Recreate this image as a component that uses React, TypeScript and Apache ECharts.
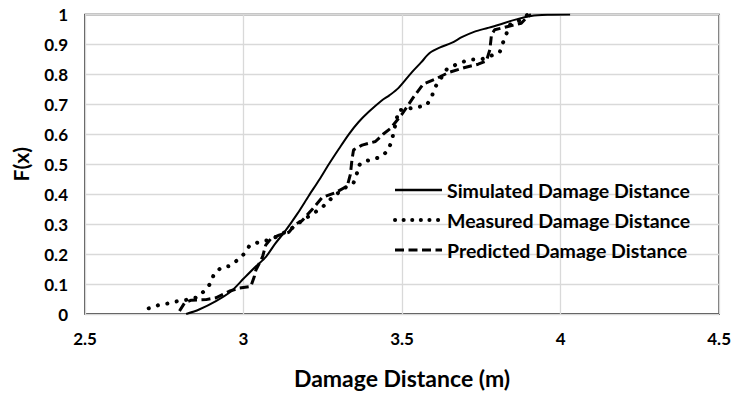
import React, { useEffect, useRef } from "react";
import * as echarts from "echarts";

const xTicks = [2.5, 3, 3.5, 4, 4.5];
const yTicks = [0, 0.1, 0.2, 0.3, 0.4, 0.5, 0.6, 0.7, 0.8, 0.9, 1];

const simulatedX = [2.819, 2.86, 2.913, 2.96, 3.002, 3.04, 3.07, 3.1, 3.133, 3.17, 3.206, 3.24, 3.269, 3.3, 3.332, 3.363, 3.395, 3.436, 3.46, 3.489, 3.53, 3.56, 3.588, 3.62, 3.656, 3.69, 3.729, 3.77, 3.803, 3.855, 3.907, 3.96, 4.03];
const simulatedY = [0, 0.015, 0.043, 0.075, 0.12, 0.16, 0.19, 0.235, 0.279, 0.335, 0.395, 0.45, 0.5, 0.55, 0.6, 0.641, 0.675, 0.713, 0.73, 0.755, 0.806, 0.84, 0.872, 0.89, 0.905, 0.925, 0.943, 0.955, 0.965, 0.982, 0.995, 0.999, 1.0];

const measuredX = [2.701, 2.73, 2.761, 2.793, 2.824, 2.856, 2.877, 2.895, 2.906, 2.929, 2.955, 2.981, 3.003, 3.02, 3.049, 3.075, 3.102, 3.122, 3.153, 3.185, 3.217, 3.248, 3.285, 3.321, 3.347, 3.358, 3.36, 3.379, 3.405, 3.436, 3.457, 3.468, 3.489, 3.549, 3.577, 3.593, 3.604, 3.641, 3.682, 3.719, 3.75, 3.78, 3.808, 3.818, 3.829, 3.839, 3.87, 3.897];
const measuredY = [0.019, 0.029, 0.035, 0.043, 0.048, 0.056, 0.078, 0.101, 0.131, 0.155, 0.16, 0.18, 0.202, 0.23, 0.24, 0.246, 0.257, 0.268, 0.287, 0.312, 0.334, 0.356, 0.394, 0.422, 0.438, 0.471, 0.493, 0.51, 0.515, 0.526, 0.548, 0.581, 0.68, 0.691, 0.696, 0.724, 0.757, 0.817, 0.839, 0.85, 0.85, 0.862, 0.874, 0.905, 0.935, 0.965, 0.98, 1.0];

const predictedX = [2.798, 2.814, 2.835, 2.882, 2.913, 2.955, 2.987, 3.023, 3.034, 3.039, 3.06, 3.07, 3.086, 3.112, 3.143, 3.164, 3.185, 3.217, 3.248, 3.29, 3.327, 3.337, 3.342, 3.347, 3.374, 3.416, 3.44, 3.463, 3.499, 3.536, 3.567, 3.604, 3.646, 3.698, 3.74, 3.766, 3.777, 3.782, 3.792, 3.834, 3.876, 3.891, 3.907];
const predictedY = [0.01, 0.037, 0.046, 0.048, 0.054, 0.076, 0.087, 0.092, 0.125, 0.147, 0.191, 0.23, 0.251, 0.263, 0.273, 0.3, 0.312, 0.35, 0.389, 0.405, 0.427, 0.466, 0.515, 0.548, 0.564, 0.576, 0.6, 0.619, 0.666, 0.724, 0.768, 0.784, 0.806, 0.823, 0.834, 0.845, 0.883, 0.932, 0.949, 0.96, 0.971, 0.988, 1.0];

const seriesNames = ["Simulated Damage Distance", "Measured Damage Distance", "Predicted Damage Distance"];

const zip = (xs: number[], ys: number[]) => xs.map((x, i) => [x, ys[i]]);

const FONT = "Lato";

const solidStyle = { color: "#000", width: 2 };
const dottedStyle = { color: "#000", width: 4, type: [0.1, 9.5], cap: "round" };
const dashedStyle = { color: "#000", width: 3, type: [9, 4.5] };

export default function App() {
  const ref = useRef<HTMLDivElement>(null);
  useEffect(() => {
    if (!ref.current) return;
    const chart = echarts.init(ref.current, null, { renderer: "svg" });
    chart.setOption({
      animation: false,
      backgroundColor: "#fff",
      textStyle: { fontFamily: FONT },
      grid: {
        left: 85,
        right: 12,
        top: 14.5,
        bottom: 76,
        show: true,
        borderColor: "#000",
        borderWidth: 1.3,
      },
      legend: {
        orient: "vertical",
        left: 393,
        top: 180,
        itemWidth: 47,
        itemHeight: 19,
        itemGap: 10,
        padding: 0,
        data: [
          { name: seriesNames[0], lineStyle: { ...solidStyle, width: 2.5 } },
          { name: seriesNames[1], lineStyle: { ...dottedStyle, type: [0.1, 8.5] } },
          { name: seriesNames[2], lineStyle: dashedStyle },
        ],
        itemStyle: { opacity: 0 },
        textStyle: { fontFamily: FONT, fontWeight: "bold", fontSize: 19.5, color: "#000" },
      },
      xAxis: {
        type: "value",
        min: 2.5,
        max: 4.5,
        interval: 0.5,
        name: "Damage Distance (m)",
        nameLocation: "middle",
        nameGap: 52,
        nameTextStyle: { fontFamily: FONT, fontWeight: "bold", fontSize: 23, color: "#000" },
        axisLine: { show: false },
        axisTick: { show: false },
        axisLabel: {
          margin: 16,
          fontFamily: FONT,
          fontWeight: "bold",
          fontSize: 17,
          color: "#000",
          formatter: (v: number) => (xTicks.includes(v) ? String(v) : ""),
        },
        splitLine: { show: true, lineStyle: { color: "#d9d9d9", width: 1.3 } },
      },
      yAxis: {
        type: "value",
        min: 0,
        max: 1,
        interval: 0.1,
        name: "F(x)",
        nameLocation: "middle",
        nameGap: 54,
        nameTextStyle: { fontFamily: FONT, fontWeight: "bold", fontSize: 21, color: "#000" },
        axisLine: { show: false },
        axisTick: { show: false },
        axisLabel: {
          margin: 17,
          fontFamily: FONT,
          fontWeight: "bold",
          fontSize: 17,
          color: "#000",
          formatter: (v: number) => {
            const r = Math.round(v * 10) / 10;
            return yTicks.includes(r) ? String(r) : "";
          },
        },
        splitLine: { show: true, lineStyle: { color: "#d9d9d9", width: 1.3 } },
      },
      series: [
        {
          name: seriesNames[0],
          type: "line",
          data: zip(simulatedX, simulatedY),
          showSymbol: false,
          symbol: "none",
          smooth: 0.3,
          lineStyle: solidStyle,
          itemStyle: { color: "#000" },
        },
        {
          name: seriesNames[1],
          type: "line",
          data: zip(measuredX, measuredY),
          showSymbol: false,
          symbol: "none",
          lineStyle: dottedStyle,
          itemStyle: { color: "#000" },
        },
        {
          name: seriesNames[2],
          type: "line",
          data: zip(predictedX, predictedY),
          showSymbol: false,
          symbol: "none",
          lineStyle: dashedStyle,
          itemStyle: { color: "#000" },
        },
      ],
    });
    return () => chart.dispose();
  }, []);
  return <div ref={ref} style={{ width: 734, height: 394, position: "absolute", left: 0, top: 0 }} />;
}
